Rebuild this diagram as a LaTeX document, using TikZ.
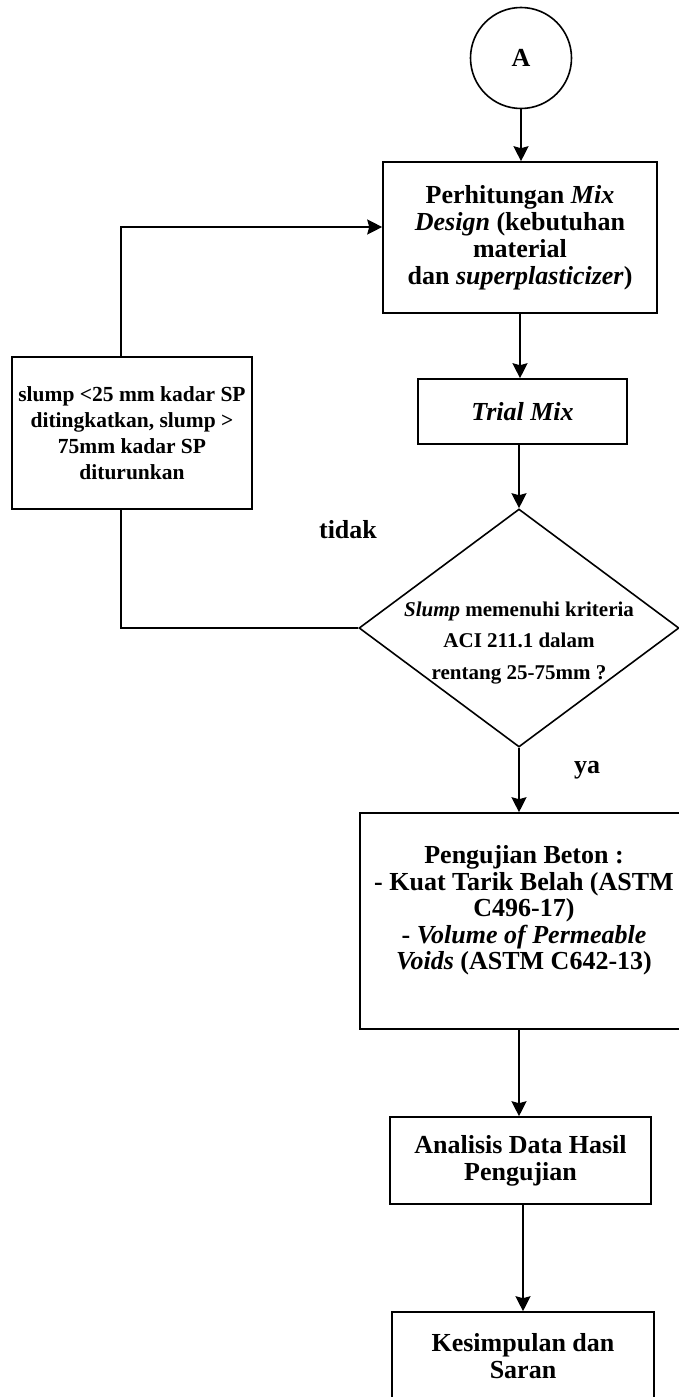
\documentclass[tikz,border=0pt]{standalone}
\usepackage{fontspec}
\setmainfont{Liberation Serif}
\usetikzlibrary{arrows.meta,shapes.geometric}
\begin{document}
\begin{tikzpicture}[x=1pt,y=-1pt,
  box/.style={draw, line width=1.6pt, inner sep=0pt, align=center, font=\fontsize{26}{27}\selectfont\bfseries},
  arr/.style={line width=1.6pt, -{Stealth[length=15pt,width=15pt,inset=2pt]}},
  ln/.style={line width=1.6pt},
  lbl/.style={font=\fontsize{26}{27}\selectfont\bfseries, inner sep=0pt}]
\useasboundingbox (0,0) rectangle (679,1397);
\clip (0,0) rectangle (679,1397);
\node[circle, draw, line width=1.6pt, minimum size=101pt, inner sep=0pt, font=\fontsize{26}{27}\selectfont\bfseries] (A) at (521,58) {A};
\node[box, minimum width=274pt, minimum height=151pt] (b1) at (520,237.5) {Perhitungan \textit{Mix}\\\textit{Design} (kebutuhan\\material\\dan \textit{superplasticizer})};
\node[box, minimum width=209pt, minimum height=65pt] (b2) at (522.5,411.5) {\textit{Trial Mix}};
\node[diamond, draw, line width=1.6pt, minimum width=320pt, minimum height=238pt, inner sep=0pt] (d) at (519,628) {};
\node[font=\fontsize{21}{31.7}\selectfont\bfseries, align=center, inner sep=0pt] (dt) at (519,643) {\textit{Slump} memenuhi kriteria\\ACI 211.1 dalam\\rentang 25-75mm ?};
\node[box, font=\fontsize{21.5}{26}\selectfont\bfseries, minimum width=240pt, minimum height=152pt] (l) at (132,433) {slump <25 mm kadar SP\\ditingkatkan, slump >\\75mm kadar SP\\diturunkan};
\node[lbl] (tidak) at (348,530) {tidak};
\node[lbl] (ya) at (587,770) {ya};
\node[box, font=\fontsize{26}{26.5}\selectfont\bfseries, minimum width=328pt, minimum height=216pt] (b3) at (524,921) {Pengujian Beton :\\- Kuat Tarik Belah (ASTM\\C496-17)\\- \textit{Volume of Permeable}\\\textit{Voids} (ASTM C642-13)\\\mbox{}};
\node[box, minimum width=261pt, minimum height=87pt] (b4) at (520.5,1160.5) {Analisis Data Hasil\\Pengujian};
\node[box, minimum width=262pt, minimum height=88pt] (b5) at (523,1356) {Kesimpulan dan\\Saran};
\coordinate (fb) at (121,227);
\draw[arr] (A.south) -- (A.south |- b1.north);
\draw[arr] (b1.south) -- (b1.south |- b2.north);
\draw[arr] (b2.south -| d.north) -- (d.north);
\draw[arr] (d.south) -- (d.south |- b3.north);
\draw[ln] (d.west) -- (d.west -| fb) -- (l.south -| fb);
\draw[arr] (l.north -| fb) -- (fb) -- (b1.west |- fb);
\draw[arr] (b3.south -| d.south) -- (b4.north -| d.south);
\draw[arr] (b4.south -| b5.north) -- (b5.north);
\end{tikzpicture}
\end{document}
